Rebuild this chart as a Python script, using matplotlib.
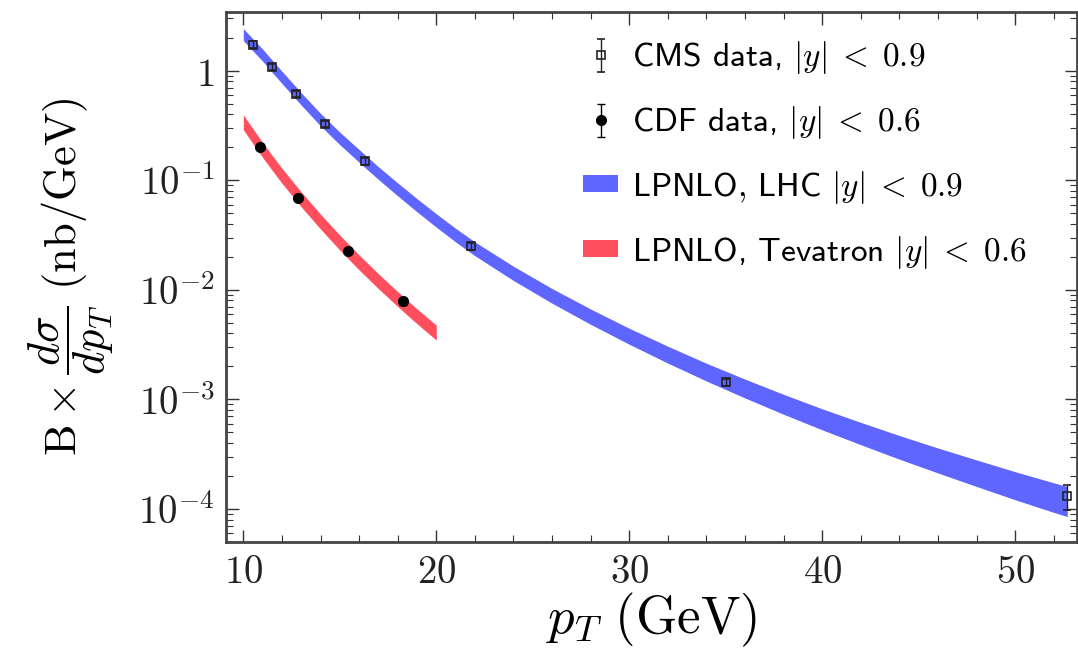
import numpy as np
import matplotlib
matplotlib.use("Agg")
import matplotlib.pyplot as plt
from matplotlib.ticker import FixedLocator, MultipleLocator, LogLocator, NullFormatter

plt.rcParams['mathtext.fontset'] = 'cm'
plt.rcParams['font.family'] = 'DejaVu Sans'

# CMS data |y|<0.9
cms_pt = [10.50, 11.49, 12.75, 14.22, 16.33, 21.78, 35.01, 52.66]
cms_val = [1.73, 1.09, 0.617, 0.326, 0.149, 0.0249, 0.00143, 0.000131]
cms_err = [0.12, 0.07, 0.04, 0.022, 0.010, 0.0017, 0.00010, 0.000033]

# CDF data |y|<0.6
cdf_pt = [10.85, 12.83, 15.40, 18.30]
cdf_val = [0.203, 0.069, 0.0228, 0.00785]
cdf_err = [0.010, 0.0035, 0.0011, 0.0005]

# LPNLO LHC band: central value and log10 half-width
lhc_pt = [10, 10.5, 11, 11.5, 12, 13, 14, 15, 16, 17, 18, 19, 20, 21, 22, 24, 26, 28, 30,
          32, 34, 36, 38, 40, 42, 44, 46, 48, 50, 52, 52.7]
lhc_mid = [2.138, 1.718, 1.387, 1.096, 0.871, 0.553, 0.358, 0.241, 0.167, 0.1164, 0.0826,
           0.0592, 0.0430, 0.0316, 0.0237, 0.01413, 0.00881, 0.00569, 0.00377, 0.00256,
           0.001774, 0.001256, 0.000902, 0.000658, 0.000488, 0.000365, 0.000277, 0.000212,
           0.000163, 0.000127, 0.000117]
lhc_hw = [0.055, 0.055, 0.055, 0.056, 0.056, 0.056, 0.057, 0.057, 0.058, 0.058, 0.059,
          0.060, 0.061, 0.062, 0.063, 0.065, 0.067, 0.070, 0.073, 0.077, 0.081, 0.086,
          0.091, 0.096, 0.102, 0.108, 0.114, 0.121, 0.128, 0.135, 0.137]

# LPNLO Tevatron band
tev_pt = [10, 10.5, 11, 11.5, 12, 13, 14, 15, 16, 17, 18, 19, 20]
tev_mid = [0.339, 0.252, 0.189, 0.144, 0.110, 0.0670, 0.0420, 0.0270, 0.0178, 0.0120,
           0.00824, 0.00574, 0.00407]
tev_hw = [0.068] * 13

x_ticks = [10, 20, 30, 40, 50]
x_ticklabels = ['$10$', '$20$', '$30$', '$40$', '$50$']
y_ticks = [1, 1e-1, 1e-2, 1e-3, 1e-4]
y_ticklabels = ['$1$', '$10^{-1}$', '$10^{-2}$', '$10^{-3}$', '$10^{-4}$']

blue = '#5e66ff'
red = '#ff4f5e'

fig = plt.figure(figsize=(10.78, 6.5), dpi=100)
ax = fig.add_axes([0.2096, 0.1662, 0.7894, 0.8146])

lm = np.array(lhc_mid); lh = np.array(lhc_hw)
ax.fill_between(lhc_pt, lm * 10**(-lh), lm * 10**lh, color=blue, lw=0,
                label=r'LPNLO$,\,$LHC $|y|\;<\;0.9$', zorder=2)
tm = np.array(tev_mid); th = np.array(tev_hw)
ax.fill_between(tev_pt, tm * 10**(-th), tm * 10**th, color=red, lw=0,
                label=r'LPNLO, Tevatron $|y|\;<\;0.6$', zorder=2)

ax.errorbar(cms_pt, cms_val, yerr=cms_err, fmt='s', mfc='none', mec='#222222', ms=6,
            mew=1.2, ecolor='#222222', elinewidth=1.0, capsize=3, capthick=1.0,
            label=r'CMS data, $|y|\;<\;0.9$', zorder=4)
ax.errorbar(cdf_pt, cdf_val, yerr=cdf_err, fmt='o', color='black', ms=7,
            elinewidth=1.0, capsize=3, capthick=1.0,
            label=r'CDF data, $|y|\;<\;0.6$', zorder=4)

ax.set_yscale('log')
ax.set_xlim(9.1, 53.2)
ax.set_ylim(5e-5, 3.4)

ax.xaxis.set_major_locator(FixedLocator(x_ticks))
ax.set_xticklabels(x_ticklabels)
ax.xaxis.set_minor_locator(MultipleLocator(2))
ax.yaxis.set_major_locator(FixedLocator(y_ticks))
ax.set_yticklabels(y_ticklabels)
ax.yaxis.set_minor_locator(LogLocator(base=10, subs=np.arange(2, 10), numticks=20))
ax.yaxis.set_minor_formatter(NullFormatter())

ax.tick_params(which='both', direction='in', top=True, right=True, labelsize=28, colors='#333333',
               labelcolor='#222222')
ax.tick_params(which='major', length=9, width=1.0, pad=8)
ax.tick_params(which='minor', length=5, width=0.8)
for s in ax.spines.values():
    s.set_linewidth(2.0)
    s.set_color('#444444')

ax.set_xlabel(r'$p_T\ (\mathrm{GeV})$', fontsize=38, labelpad=0)
ax.set_ylabel(r'$\mathrm{B} \times \dfrac{d\sigma}{dp_T}\ (\mathrm{nb/GeV})$', fontsize=32, labelpad=16)

h, l = ax.get_legend_handles_labels()
order = [2, 3, 0, 1]
ax.legend([h[i] for i in order], [l[i] for i in order], loc='upper left',
          bbox_to_anchor=(0.404, 0.976), frameon=False, prop={'family': 'cmss10', 'size': 24},
          handlelength=1.05, handleheight=0.4, handletextpad=0.42, labelspacing=0.84,
          borderaxespad=0.0)

fig.savefig('out.png', dpi=100)
